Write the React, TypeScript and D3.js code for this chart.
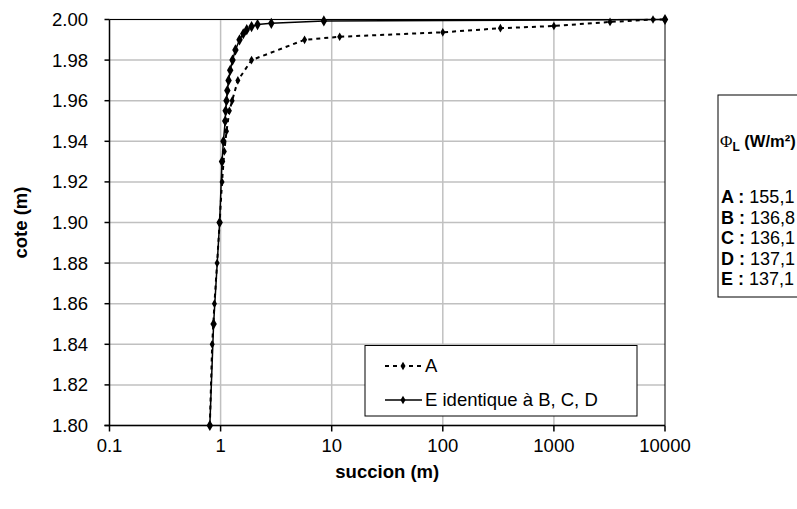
import React from "react";
import * as d3 from "d3";

const seriesA_x = [0.8, 0.84, 0.88, 0.93, 0.98, 1.03, 1.08, 1.13, 1.2, 1.27, 1.43, 1.9, 5.7, 11.8, 100, 330, 1000, 3200, 7800, 10000];
const seriesA_y = [1.8, 1.84, 1.86, 1.88, 1.9, 1.92, 1.935, 1.945, 1.955, 1.96, 1.97, 1.98, 1.99, 1.9915, 1.9937, 1.9957, 1.9968, 1.9988, 2.0, 2.0];

const seriesE_x = [0.8, 0.865, 0.98, 1.03, 1.06, 1.1, 1.11, 1.13, 1.15, 1.18, 1.22, 1.28, 1.36, 1.48, 1.6, 1.72, 1.9, 2.15, 2.86, 8.5, 10000];
const seriesE_y = [1.8, 1.85, 1.9, 1.93, 1.94, 1.95, 1.955, 1.96, 1.965, 1.97, 1.975, 1.98, 1.985, 1.99, 1.993, 1.995, 1.9965, 1.9975, 1.9981, 1.9993, 2.0];

const xTicks = [0.1, 1, 10, 100, 1000, 10000];
const xTickLabels = ["0.1", "1", "10", "100", "1000", "10000"];
const yTicks = [1.8, 1.82, 1.84, 1.86, 1.88, 1.9, 1.92, 1.94, 1.96, 1.98, 2.0];

const fluxLabels = ["A :", "B :", "C :", "D :", "E :"];
const fluxValues = ["155,1", "136,8", "136,1", "137,1", "137,1"];

const legendLabels = ["A", "E identique à B, C, D"];

const W = 797, H = 509;
const L = 109.5, R = 665, T = 19.5, B = 425.5;
const FONT = "Arial, 'Liberation Sans', sans-serif";

export default function App() {
  const x = d3.scaleLog().domain([0.1, 10000]).range([L, R]);
  const y = d3.scaleLinear().domain([1.8, 2.0]).range([B, T]);
  const line = d3.line<[number, number]>().x(d => x(d[0])).y(d => y(d[1]));
  const A: [number, number][] = seriesA_x.map((v, i) => [v, seriesA_y[i]]);
  const E: [number, number][] = seriesE_x.map((v, i) => [v, seriesE_y[i]]);
  const diamond = d3.symbol().type(d3.symbolDiamond).size(36)() as string;
  const diamondS = d3.symbol().type(d3.symbolDiamond).size(22)() as string;

  return (
    <svg width={W} height={H} style={{ position: "absolute", left: 0, top: 0, background: "#fff" }} fontFamily={FONT}>
      <rect x={0} y={0} width={W} height={H} fill="#fff" />
      {/* grid */}
      {yTicks.map(t => (
        <line key={"gy" + t} x1={L} x2={R} y1={y(t)} y2={y(t)} stroke="#c0c0c0" strokeWidth={1.5} />
      ))}
      {xTicks.slice(1, -1).map(t => (
        <line key={"gx" + t} x1={x(t)} x2={x(t)} y1={T} y2={B} stroke="#c0c0c0" strokeWidth={1.5} />
      ))}
      {/* plot border */}
      <line x1={R} x2={R} y1={T} y2={B} stroke="#000" strokeWidth={1} />
      <line x1={L} x2={R} y1={T} y2={T} stroke="#000" strokeWidth={1} />
      {/* axes */}
      <line x1={L} x2={L} y1={T} y2={B} stroke="#000" strokeWidth={1.5} />
      <line x1={L - 5} x2={R} y1={B} y2={B} stroke="#000" strokeWidth={1.5} />
      {yTicks.map(t => (
        <g key={"ty" + t}>
          <line x1={L - 5} x2={L} y1={y(t)} y2={y(t)} stroke="#000" strokeWidth={1.5} />
          <text x={88} y={y(t)} dy="0.35em" textAnchor="end" fontSize={18.5}>{t.toFixed(2)}</text>
        </g>
      ))}
      {xTicks.map((t, i) => (
        <g key={"tx" + t}>
          <line x1={x(t)} x2={x(t)} y1={B} y2={B + 6} stroke="#000" strokeWidth={1.5} />
          <text x={x(t)} y={452} textAnchor="middle" fontSize={18.5}>{xTickLabels[i]}</text>
        </g>
      ))}
      <text x={(L + R) / 2} y={478} textAnchor="middle" fontSize={18.5} fontWeight="bold">succion (m)</text>
      <text transform={`translate(27,${(T + B) / 2}) rotate(-90)`} textAnchor="middle" fontSize={18.5} fontWeight="bold">cote (m)</text>

      {/* series */}
      <path d={line(A) as string} fill="none" stroke="#000" strokeWidth={2} strokeDasharray="4,4" />
      {A.map((d, i) => (
        <path key={"ma" + i} d={diamondS} transform={`translate(${x(d[0])},${y(d[1])})`} fill="#000" />
      ))}
      <path d={line(E) as string} fill="none" stroke="#000" strokeWidth={1.5} />
      {E.map((d, i) => (
        <path key={"me" + i} d={diamond} transform={`translate(${x(d[0])},${y(d[1])})`} fill="#000" />
      ))}

      {/* legend */}
      <rect x={365} y={345.5} width={272} height={70.5} fill="#fff" stroke="#000" strokeWidth={1} />
      <line x1={385} x2={422} y1={366} y2={366} stroke="#000" strokeWidth={2} strokeDasharray="4,4" />
      <path d={diamondS} transform="translate(403,366)" fill="#000" />
      <text x={425} y={366} dy="0.35em" fontSize={18.5}>{legendLabels[0]}</text>
      <line x1={385} x2={422} y1={400} y2={400} stroke="#000" strokeWidth={1.5} />
      <path d={diamondS} transform="translate(403,400)" fill="#000" />
      <text x={425} y={400} dy="0.35em" fontSize={18.5}>{legendLabels[1]}</text>

      {/* flux box */}
      <rect x={718} y={95} width={120} height={202} fill="#fff" stroke="#000" strokeWidth={1} />
      <text x={720} y={147} fontSize={16.5} fontWeight="bold">
        <tspan fontFamily="'Liberation Serif', 'Times New Roman', serif" fontWeight="normal" fontSize={17}>Φ</tspan>
        <tspan dy={4} fontSize={12}>L</tspan>
        <tspan dy={-4}> (W/m²)</tspan>
      </text>
      {fluxLabels.map((lab, i) => (
        <text key={"fl" + i} x={721} y={203 + i * 20.5} fontSize={18}>
          <tspan fontWeight="bold">{lab}</tspan>
          <tspan> {fluxValues[i]}</tspan>
        </text>
      ))}
    </svg>
  );
}
